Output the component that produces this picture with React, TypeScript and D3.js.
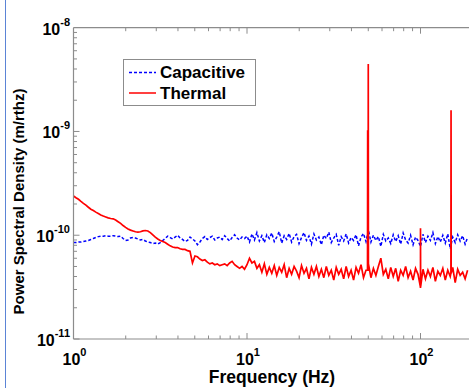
import React from "react";
import * as d3 from "d3";

// FFT bins are log-spaced: bin i sits at 10^(i / STEPS_PER_DECADE) Hz
const STEPS_PER_DECADE = 70;
// values in units of 1e-11 m/rthz
const UNIT = 1e-11;

const capacitive = [
  8.5, 8.5, 8.6, 8.6, 8.7, 8.8, 8.9, 9.1, 9.3, 9.5,
  9.7, 9.8, 9.8, 9.9, 9.8, 9.8, 9.9, 9.8, 9.7, 9.8,
  9.3, 8.9, 9.0, 9.4, 9.5, 9.4, 9.2, 9.0, 9.1, 8.8,
  8.6, 8.5, 8.3, 8.4, 8.2, 8.5, 8.9, 9.3, 9.8, 9.5,
  9.2, 9.6, 10.0, 9.4, 9.1, 8.7, 8.9, 9.6, 9.2, 8.8,
  8.1, 8.6, 9.3, 9.7, 9.1, 9.5, 9.8, 9.0, 9.4, 9.6,
  9.1, 9.9, 9.3, 8.8, 9.5, 10.1, 9.4, 9.0, 9.6, 9.3,
  9.8, 8.6, 10.3, 9.0, 10.6, 8.8, 9.9, 8.5, 10.1, 9.3,
  10.5, 8.7, 9.6, 10.8, 8.4, 9.9, 9.1, 10.4, 8.6, 9.7,
  10.2, 8.3, 9.5, 10.6, 8.9, 9.8, 8.2, 10.3, 9.0, 9.6,
  8.1, 10.0, 9.3, 10.7, 8.5, 9.4, 10.2, 8.0, 9.7, 8.8,
  10.3, 8.4, 9.5, 8.9, 10.1, 7.9, 9.6, 10.4, 8.7, 11.2,
  8.6, 10.0, 8.9, 9.7, 7.8, 10.2, 8.8, 9.4, 8.3, 10.1,
  8.7, 9.9, 8.2, 10.5, 9.0, 8.4, 10.0, 8.1, 9.6, 8.9,
  7.8, 10.2, 8.5, 9.8, 8.9, 10.6, 8.3, 9.7, 8.6, 10.0,
  8.4, 10.3, 7.4, 9.6, 8.5, 10.1, 8.8, 9.9, 8.2, 9.5,
];

const thermal = [
  23.9, 23.0, 22.2, 21.2, 20.3, 19.5, 18.6, 17.8, 17.3, 16.7,
  16.2, 15.7, 15.3, 15.0, 14.7, 14.5, 14.4, 14.0, 13.5, 13.0,
  12.4, 11.9, 11.5, 11.2, 11.0, 10.8, 10.7, 10.8, 11.0, 11.1,
  11.0, 10.6, 10.1, 9.6, 9.2, 8.9, 8.7, 8.5, 8.2, 7.9,
  7.7, 7.6, 7.6, 7.4, 7.3, 7.3, 7.1, 7.0, 5.4, 6.3,
  6.2, 5.9, 5.7, 5.8, 5.5, 5.3, 5.4, 5.2, 5.3, 5.1,
  5.2, 5.3, 5.1, 5.4, 5.6, 5.2, 5.0, 4.8, 5.0, 4.7,
  5.2, 6.0, 5.4, 5.6, 4.8, 5.2, 4.4, 5.3, 4.2, 4.9,
  4.3, 5.1, 4.1, 4.9, 4.4, 5.2, 3.9, 4.8, 4.2, 5.0,
  4.5, 3.9, 5.1, 4.3, 4.8, 3.8, 4.9, 4.2, 5.0, 4.0,
  4.7, 3.9, 5.0, 4.1, 4.6, 3.7, 4.9, 4.2, 4.7, 3.8,
  5.0, 4.0, 4.6, 3.7, 4.9, 4.3, 5.2, 3.9, 4.6, 5.3,
  3.9, 4.8, 4.1, 5.0, 6.0, 4.2, 4.7, 3.8, 4.9, 4.0,
  4.8, 3.6, 4.6, 4.1, 5.0, 3.9, 4.5, 3.7, 4.8, 4.2,
  3.1, 4.7, 3.8, 4.6, 4.0, 4.9, 3.6, 4.5, 4.1, 4.8,
  3.7, 4.6, 4.0, 4.9, 3.5, 4.7, 4.1, 4.4, 3.8, 4.6,
];

// narrow mains-harmonic lines on the thermal trace
const spikeFreq = [49.6, 50, 100, 150];
const spikePeak = [103, 446, 11.7, 160];
const spikeBase = [4.6, 4.6, 3.2, 4.3];

const xTickExps = [0, 1, 2];
const yTickExps = [-11, -10, -9, -8];

const W = 469;
const H = 388;
const M = { left: 73.5, top: 27.7, bottom: 339 };
const DECADE_X = 173.5;

const FONT = "'Liberation Sans', Arial, sans-serif";

export default function App() {
  const x = d3.scaleLog().domain([1, 1000]).range([M.left, M.left + 3 * DECADE_X]);
  const y = d3.scaleLog().domain([1e-11, 1e-8]).range([M.bottom, M.top]);
  const right = W + 2;

  const freqs = capacitive.map((_, i) => Math.pow(10, i / STEPS_PER_DECADE));
  const capPts: [number, number][] = capacitive.map((v, i) => [freqs[i], v * UNIT]);
  let thPts: [number, number][] = thermal.map((v, i) => [freqs[i], v * UNIT]);
  spikeFreq.forEach((f, k) => {
    thPts.push([f * 0.998, spikeBase[k] * UNIT]);
    thPts.push([f, spikePeak[k] * UNIT]);
    thPts.push([f * 1.002, spikeBase[k] * UNIT]);
  });
  thPts = thPts.sort((a, b) => a[0] - b[0]);

  const line = d3
    .line<[number, number]>()
    .x((d) => x(d[0]))
    .y((d) => y(d[1]));

  const xMinor: number[] = [];
  for (let e = 0; e <= 2; e++)
    for (let k = 1; k <= 9; k++) {
      const v = k * Math.pow(10, e);
      if (x(v) <= right) xMinor.push(v);
    }
  const yMinor: number[] = [];
  for (let e = -11; e <= -9; e++)
    for (let k = 1; k <= 9; k++) yMinor.push(k * Math.pow(10, e));

  const axisColor = "#8c8c8c";

  return (
    <svg width={W} height={H} style={{ position: "absolute", left: 0, top: 0, background: "#fff" }}>
      <rect x={0} y={0} width={W} height={H} fill="#fff" />
      <line x1={5.5} x2={5.5} y1={0} y2={H} stroke="#5b84d6" strokeWidth={1} />
      <defs>
        <clipPath id="plot">
          <rect x={M.left} y={M.top} width={right - M.left} height={M.bottom - M.top} />
        </clipPath>
      </defs>

      {/* ticks */}
      {xMinor.map((v, i) => {
        const major = Math.abs(Math.log10(v) - Math.round(Math.log10(v))) < 1e-9;
        const len = major ? 6 : 3.5;
        return (
          <g key={"xt" + i} stroke={axisColor} strokeWidth={1}>
            <line x1={x(v)} x2={x(v)} y1={M.bottom} y2={M.bottom - len} />
            <line x1={x(v)} x2={x(v)} y1={M.top} y2={M.top + len} />
          </g>
        );
      })}
      {yMinor.map((v, i) => {
        const major = Math.abs(Math.log10(v) - Math.round(Math.log10(v))) < 1e-9;
        const len = major ? 6 : 3.5;
        return (
          <line key={"yt" + i} x1={M.left} x2={M.left + len} y1={y(v)} y2={y(v)} stroke={axisColor} strokeWidth={1} />
        );
      })}

      {/* data */}
      <g clipPath="url(#plot)">
        <path d={line(capPts) || ""} fill="none" stroke="#0000ff" strokeWidth={1.5} strokeDasharray="3,2" />
        <path d={line(thPts) || ""} fill="none" stroke="#ff0000" strokeWidth={1.7} />
      </g>

      {/* frame */}
      <line x1={M.left} x2={right} y1={M.top} y2={M.top} stroke={axisColor} strokeWidth={1.2} />
      <line x1={M.left} x2={right} y1={M.bottom} y2={M.bottom} stroke={axisColor} strokeWidth={1.2} />
      <line x1={M.left} x2={M.left} y1={M.top} y2={M.bottom} stroke={axisColor} strokeWidth={1.2} />

      {/* y tick labels */}
      {yTickExps.map((e) => (
        <text key={"yl" + e} x={70} y={y(Math.pow(10, e)) + 7} textAnchor="end" fontFamily={FONT} fontWeight="bold" fontSize={16} fill="#000">
          <tspan>10</tspan>
          <tspan fontSize={11} dy={-9}>{String(e)}</tspan>
        </text>
      ))}

      {/* x tick labels */}
      {xTickExps.map((e) => (
        <text key={"xl" + e} x={x(Math.pow(10, e)) + 1} y={365} textAnchor="middle" fontFamily={FONT} fontWeight="bold" fontSize={16} fill="#000">
          <tspan>10</tspan>
          <tspan fontSize={11} dy={-9}>{String(e)}</tspan>
        </text>
      ))}

      {/* axis titles */}
      <text x={272} y={383} textAnchor="middle" fontFamily={FONT} fontWeight="bold" fontSize={17.5} fill="#000">
        Frequency (Hz)
      </text>
      <text transform="translate(24,201.5) rotate(-90)" textAnchor="middle" fontFamily={FONT} fontWeight="bold" fontSize={15} fill="#000">
        Power Spectral Density (m/rthz)
      </text>

      {/* legend */}
      <rect x={123.5} y={59.5} width={132} height={46} fill="#fff" stroke={axisColor} strokeWidth={1} />
      <line x1={129} x2={156} y1={72.5} y2={72.5} stroke="#0000ff" strokeWidth={1.3} strokeDasharray="3,2" />
      <line x1={129} x2={156} y1={93} y2={93} stroke="#ff0000" strokeWidth={1.5} />
      <text x={160} y={78} fontFamily={FONT} fontWeight="bold" fontSize={17} fill="#000">Capacitive</text>
      <text x={160} y={98.5} fontFamily={FONT} fontWeight="bold" fontSize={17} fill="#000">Thermal</text>
    </svg>
  );
}
